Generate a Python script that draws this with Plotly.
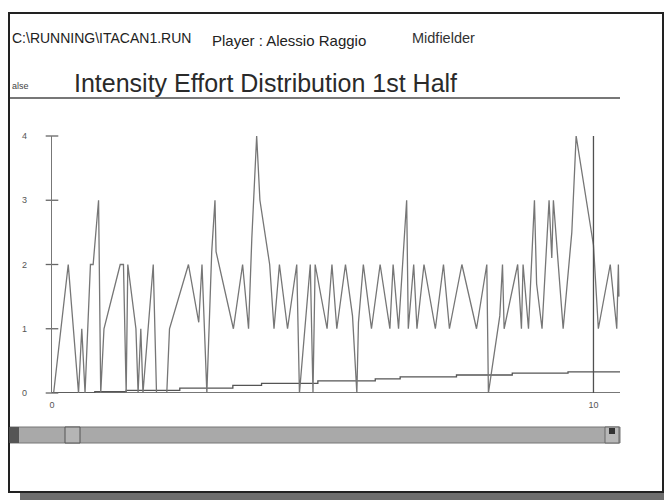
import plotly.graph_objects as go

# ---------------- data ----------------
effort_x = [0.03, 0.30, 0.49, 0.55, 0.61, 0.71, 0.76, 0.86, 0.90, 0.96,
            1.26, 1.32, 1.37, 1.40, 1.55, 1.59, 1.64, 1.68, 1.87, 1.93,
            2.12, 2.17, 2.52, 2.71, 2.77, 2.86, 2.95, 3.01, 3.03, 3.35,
            3.52, 3.63, 3.69, 3.78, 3.84, 4.02, 4.10, 4.20, 4.35, 4.52,
            4.57, 4.77, 4.82, 4.86, 5.08, 5.17, 5.26, 5.42, 5.55, 5.63,
            5.66, 5.75, 5.90, 6.06, 6.24, 6.30, 6.40, 6.55, 6.58, 6.68,
            6.74, 6.87, 7.08, 7.23, 7.34, 7.57, 7.84, 8.03, 8.06, 8.27,
            8.32, 8.35, 8.60, 8.67, 8.70, 8.80, 8.91, 8.95, 9.05, 9.18,
            9.23, 9.26, 9.44, 9.60, 9.68, 10.00, 10.09, 10.31, 10.43, 10.46,
            10.47]
effort_y = [0, 2, 0, 1, 0, 2, 2, 3, 0, 1,
            2, 2, 0, 2, 1, 0, 1, 0, 2, 0,
            0, 1, 2, 1.1, 2, 0, 2.2, 3, 2.2, 1,
            2, 1, 2.4, 4, 3, 2, 1, 2, 1, 2,
            0, 2, 0, 2, 1, 2, 1, 2, 1.2, 0,
            1.1, 2, 1, 2, 1, 2, 1, 3, 1, 2,
            1, 2, 1, 2, 1, 2, 1, 2, 0, 1.2,
            2, 1, 2, 1, 2, 1, 3, 1.7, 1, 3,
            2.1, 3, 1, 2.5, 4, 2.3, 1, 2, 1, 2,
            1.5]

cumul_x = [0, 0.79, 1.37, 2.36, 3.34, 3.87, 4.91, 5.97, 6.43, 7.47, 8.50, 9.53, 10.49]
cumul_y = [0, 0.02, 0.04, 0.075, 0.12, 0.15, 0.19, 0.22, 0.25, 0.28, 0.31, 0.33, 0.33]

base_x = [0, 10.49]
base_y = [0, 0]

cursor_x = 10
y_ticks = [0, 1, 2, 3, 4]
x_ticks = [0, 10]
x_tick_labels = ["0", "10"]

file_name = "C:\\RUNNING\\ITACAN1.RUN"
player = "Player : Alessio Raggio"
role = "Midfielder"
side_label = "alse"
title = "Intensity Effort Distribution 1st Half"

# ---------------- figure ----------------
W, H = 672, 504
OFF = 8  # the page body shifts the figure by 8 px


def px(x):
    return (x - OFF) / W


def py(y):
    return 1 - (y - OFF) / H


fig = go.Figure()

fig.add_trace(go.Scatter(x=base_x, y=base_y, mode="lines",
                         line=dict(color="#4a4a4a", width=1.4),
                         hoverinfo="skip", showlegend=False, cliponaxis=False))
fig.add_trace(go.Scatter(x=cumul_x, y=cumul_y, mode="lines", line_shape="hv",
                         line=dict(color="#555555", width=1.3),
                         hoverinfo="skip", showlegend=False, cliponaxis=False))
fig.add_trace(go.Scatter(x=effort_x, y=effort_y, mode="lines",
                         line=dict(color="#767676", width=1.3),
                         showlegend=False, cliponaxis=False))
fig.add_trace(go.Scatter(x=[cursor_x, cursor_x], y=[0, max(y_ticks)], mode="lines",
                         line=dict(color="#505050", width=1.3),
                         hoverinfo="skip", showlegend=False, cliponaxis=False))
# crossing tick marks on the y axis
fig.add_trace(go.Scatter(x=[0] * len(y_ticks), y=y_ticks, mode="markers",
                         marker=dict(symbol="line-ew", size=9,
                                     line=dict(color="#666666", width=1.3)),
                         hoverinfo="skip", showlegend=False, cliponaxis=False))

shapes = [
    # drop shadow
    dict(type="rect", xref="paper", yref="paper", x0=px(20), x1=px(672), y0=py(500), y1=py(25),
         fillcolor="#6e6e6e", line=dict(width=0), layer="below"),
    # window frame
    dict(type="rect", xref="paper", yref="paper", x0=px(9), x1=px(663), y0=py(492), y1=py(13),
         fillcolor="white", line=dict(color="#222222", width=2), layer="below"),
    # rule under the title
    dict(type="line", xref="paper", yref="paper", x0=px(10), x1=px(620), y0=py(98), y1=py(98),
         line=dict(color="#777777", width=2)),
    # scroll bar
    dict(type="rect", xref="paper", yref="paper", x0=px(10), x1=px(620), y0=py(443), y1=py(427),
         fillcolor="#a9a9a9", line=dict(color="#777777", width=1)),
    dict(type="rect", xref="paper", yref="paper", x0=px(10), x1=px(19), y0=py(443), y1=py(427),
         fillcolor="#555555", line=dict(width=0)),
    dict(type="rect", xref="paper", yref="paper", x0=px(65), x1=px(80), y0=py(443), y1=py(427),
         fillcolor="#b5b5b5", line=dict(color="#555555", width=1)),
    dict(type="rect", xref="paper", yref="paper", x0=px(605), x1=px(619), y0=py(443), y1=py(427),
         fillcolor="#b8b8b8", line=dict(color="#666666", width=1)),
    dict(type="rect", xref="paper", yref="paper", x0=px(609), x1=px(615), y0=py(434), y1=py(428),
         fillcolor="#333333", line=dict(width=0)),
]

font_family = "Liberation Sans, Arial, sans-serif"
annotations = [
    dict(text=file_name, x=px(10), y=py(38), xref="paper", yref="paper",
         xanchor="left", yanchor="middle", showarrow=False,
         font=dict(family=font_family, size=14, color="#222222")),
    dict(text=player, x=px(210), y=py(41), xref="paper", yref="paper",
         xanchor="left", yanchor="middle", showarrow=False,
         font=dict(family=font_family, size=15, color="#222222")),
    dict(text=role, x=px(410), y=py(38), xref="paper", yref="paper",
         xanchor="left", yanchor="middle", showarrow=False,
         font=dict(family=font_family, size=14.5, color="#333333")),
    dict(text=side_label, x=px(10), y=py(86), xref="paper", yref="paper",
         xanchor="left", yanchor="middle", showarrow=False,
         font=dict(family=font_family, size=9, color="#444444")),
    dict(text=title, x=px(72), y=py(83), xref="paper", yref="paper",
         xanchor="left", yanchor="middle", showarrow=False,
         font=dict(family=font_family, size=25, color="#2a2a2a")),
]

fig.update_layout(
    template="none",
    width=W, height=H,
    margin=dict(l=0, r=0, t=0, b=0, pad=0),
    paper_bgcolor="white",
    plot_bgcolor="rgba(0,0,0,0)",
    showlegend=False,
    shapes=shapes,
    annotations=annotations,
    xaxis=dict(domain=[px(52), px(620)], range=[0, 10.49], automargin=False,
               showgrid=False, zeroline=False, showline=False,
               tickmode="array", tickvals=x_ticks, ticktext=x_tick_labels,
               ticks="outside", ticklen=3, tickcolor="rgba(0,0,0,0)",
               tickfont=dict(family=font_family, size=9, color="#555555")),
    yaxis=dict(domain=[py(393), py(136)], range=[0, 4], automargin=False,
               showgrid=False, zeroline=False,
               showline=True, linecolor="#777777", linewidth=1.4,
               tickmode="array", tickvals=y_ticks,
               ticks="outside", ticklen=22, tickcolor="rgba(0,0,0,0)",
               tickfont=dict(family=font_family, size=9, color="#555555")),
)

fig.write_html("out.html")
